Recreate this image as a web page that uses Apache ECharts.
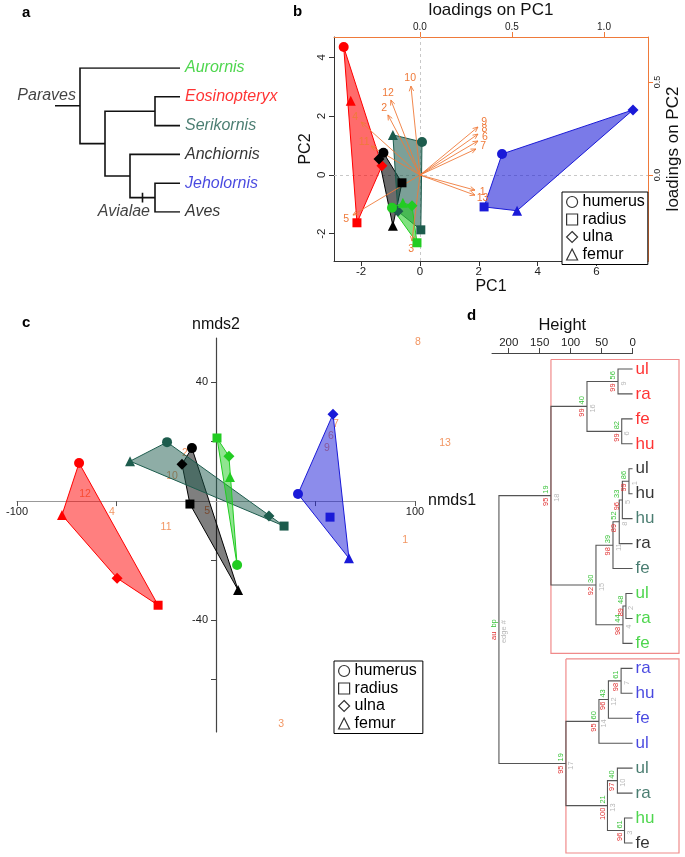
<!DOCTYPE html>
<html>
<head>
<meta charset="utf-8">
<script src="https://cdn.jsdelivr.net/npm/echarts@6.0.0/dist/echarts.min.js"></script>
<style>html,body{margin:0;padding:0;background:#fff;}#chart{width:685px;height:857px;}</style>
</head>
<body>
<div id="chart"></div>
<script>
// ================= DATA =================
// (a) cladogram
const treeTaxa = ['Aurornis','Eosinopteryx','Serikornis','Anchiornis','Jeholornis','Aves'];
const treeMerge = [[-2,-3],[-5,-6],[-4,2],[1,3],[-1,4]];   // R-style merge matrix
const treeNodeRank = [3,3,2,1,0];
const treeLeafRank = 4;
const treeCladeNames = ['Paraves','Avialae'];

// (b) PCA: bone order humerus, radius, ulna, femur ; [PC1, PC2]
const taxa = ['Eosinopteryx','Anchiornis','Serikornis','Aurornis','Jeholornis'];
const bones = ['humerus','radius','ulna','femur'];
const pcaEosinopteryx = [[-2.59,4.35],[-2.14,-1.63],[-1.29,0.31],[-2.35,2.52]];
const pcaAnchiornis   = [[-1.24,0.75],[-0.61,-0.27],[-1.39,0.54],[-0.92,-1.73]];
const pcaSerikornis   = [[0.07,1.12],[0.03,-1.87],[-0.75,-1.24],[-0.92,1.36]];
const pcaAurornis     = [[-0.95,-1.12],[-0.10,-2.31],[-0.27,-1.05],[-0.58,-0.95]];
const pcaJeholornis   = [[2.79,0.71],[2.18,-1.09],[7.24,2.21],[3.30,-1.22]];
const loadingVars = ['1','2','3','4','5','6','7','8','9','10','11','12','13'];
const loadingPC1 = [0.299,-0.174,-0.043,-0.320,-0.364,0.315,0.304,0.315,0.315,-0.049,-0.266,-0.158,0.299];
const loadingPC2 = [-0.081,0.323,-0.355,0.285,-0.215,0.183,0.140,0.220,0.258,0.478,0.156,0.403,-0.108];
const pc1Ticks = [-2,0,2,4,6];
const pc2Ticks = [-2,0,2,4];
const load1Ticks = [0,0.5,1.0];
const load2Ticks = [0,0.5];

// (c) NMDS
const nmdsEosinopteryx = [[-68.8,12.8],[-29.1,-35.0],[-49.7,-25.9],[-77.4,-4.7]];
const nmdsAnchiornis   = [[-12.1,17.8],[-13.1,-1.0],[-17.1,12.4],[11.1,-29.9]];
const nmdsSerikornis   = [[-24.6,19.8],[34.2,-8.4],[26.6,-5.0],[-43.2,13.4]];
const nmdsAurornis     = [[10.6,-21.5],[0.5,21.2],[6.5,15.1],[7.0,8.1]];
const nmdsJeholornis   = [[41.2,2.4],[57.3,-5.4],[58.8,29.2],[66.8,-19.2]];
const nmdsVars = ['1','2','3','4','5','6','7','8','9','10','11','12','13'];
const nmdsVar1 = [95.0,-15.6,32.7,-52.3,-4.5,57.8,60.3,101.5,55.8,-22.1,-25.1,-65.8,115.1];
const nmdsVar2 = [-13.1,16.1,-75.0,-3.7,-3.4,21.8,25.9,53.4,17.8,8.4,-8.7,2.4,19.5];
const nmds1Range = [-100,100];
const nmds2Range = [-77.6,54.8];
const nmds1Ticks = [-100,-50,50,100];
const nmds1Labels = [-100,100];
const nmds2Ticks = [-60,-40,-20,20,40];
const nmds2Labels = [-40,40];

// (d) dendrogram
const dendroLeafBone = ['ul','ra','fe','hu','ul','hu','hu','ra','fe','ul','ra','fe','ra','hu','fe','ul','ul','ra','hu','fe'];
const dendroLeafTaxon = ['Eosinopteryx','Eosinopteryx','Eosinopteryx','Eosinopteryx','Anchiornis','Anchiornis','Serikornis','Anchiornis','Serikornis','Aurornis','Aurornis','Aurornis','Jeholornis','Jeholornis','Jeholornis','Jeholornis','Serikornis','Serikornis','Aurornis','Anchiornis'];
const dendroMerge = [[-1,-2],[-3,-4],[1,2],[-5,-6],[4,-7],[5,-8],[6,-9],[-10,-11],[8,-12],[7,9],[3,10],[-13,-14],[12,-15],[13,-16],[-17,-18],[-19,-20],[15,16],[14,17],[11,18]];
const dendroHeight = [23.5,17.5,73.6,5.8,16.5,21.5,31.6,10.7,15.5,59.1,131.8,18.5,39.0,54.3,24.5,13.0,40.5,107.6,215.8];
const dendroBP   = ['56','82','40','86','33','52','39','48','44','30','19','61','43','60','40','61','21','19','bp'];
const dendroAU   = ['99','99','99','99','96','89','98','89','98','92','95','98','96','95','97','96','100','95','au'];
const dendroEdge = ['9','6','16','1','5','8','11','2','4','15','18','7','12','14','10','3','13','17','edge #'];
const dendroBoxNodes = [11,18];
const heightTicks = [0,50,100,150,200];

// ================= STYLE =================
const FONT = '"Liberation Sans", Arial, Helvetica, sans-serif';
const COL = {Aurornis:'#22cc22', Eosinopteryx:'#ff0000', Serikornis:'#1d5c4d', Anchiornis:'#000000', Jeholornis:'#1a1ad8', Aves:'#000000'};
const ORANGE = '#ef7a3a';
const SYM = {humerus:'circle', radius:'rect', ulna:'diamond', femur:'triangle'};
const SYMSIZE = {humerus:10, radius:9, ulna:11, femur:10};
const pca = {Eosinopteryx:pcaEosinopteryx, Anchiornis:pcaAnchiornis, Serikornis:pcaSerikornis, Aurornis:pcaAurornis, Jeholornis:pcaJeholornis};
const nmds = {Eosinopteryx:nmdsEosinopteryx, Anchiornis:nmdsAnchiornis, Serikornis:nmdsSerikornis, Aurornis:nmdsAurornis, Jeholornis:nmdsJeholornis};

// panel c plot box (pixels)
const GC = {left:17, top:338, width:398, height:394};
const cX0 = GC.left + (0-nmds1Range[0])/(nmds1Range[1]-nmds1Range[0])*GC.width;
const cY0 = GC.top + (nmds2Range[1]-0)/(nmds2Range[1]-nmds2Range[0])*GC.height;

function rgba(hex, a){const n=parseInt(hex.slice(1),16);return `rgba(${(n>>16)&255},${(n>>8)&255},${n&255},${a})`;}
function hull(pts){
  const p=pts.map(q=>q.slice()).sort((a,b)=>a[0]-b[0]||a[1]-b[1]);
  const cr=(o,a,b)=>(a[0]-o[0])*(b[1]-o[1])-(a[1]-o[1])*(b[0]-o[0]);
  const lo=[];for(const q of p){while(lo.length>=2&&cr(lo[lo.length-2],lo[lo.length-1],q)<=0)lo.pop();lo.push(q);}
  const up=[];for(let i=p.length-1;i>=0;i--){const q=p[i];while(up.length>=2&&cr(up[up.length-2],up[up.length-1],q)<=0)up.pop();up.push(q);}
  lo.pop();up.pop();return lo.concat(up);
}
function polySeries(pts,color,xi,yi,alpha){
  const h=hull(pts);
  return {type:'custom',xAxisIndex:xi,yAxisIndex:yi,z:3,silent:true,data:h,
    renderItem:(params,api)=>{ if(params.dataIndex!==0) return null;
      return {type:'polygon',shape:{points:h.map(p=>api.coord(p))},style:{fill:rgba(color,alpha),stroke:color,lineWidth:1}}; }};
}
function pointSeries(pts,color,xi,yi){
  return {type:'scatter',xAxisIndex:xi,yAxisIndex:yi,z:5,silent:true,clip:false,itemStyle:{color:color,opacity:1},
    data:pts.map((p,j)=>({value:p,symbol:SYM[bones[j]],symbolSize:SYMSIZE[bones[j]]}))};
}

// ---- tree layout (a) ----
const treeSegs=[]; const treeNodes=[];
treeMerge.forEach((m,k)=>{
  const pos=c=>c<0?[treeLeafRank,-c-1]:treeNodes[c-1];
  const a=pos(m[0]), b=pos(m[1]); const r=treeNodeRank[k];
  treeNodes.push([r,(a[1]+b[1])/2]);
  treeSegs.push({coords:[[a[0],a[1]],[r,a[1]],[r,b[1]],[b[0],b[1]]]});
});
const treeRoot=treeNodes[treeNodes.length-1];
treeSegs.push({coords:[[treeRoot[0]-1,treeRoot[1]],[treeRoot[0],treeRoot[1]]]});
const avNode=treeNodes[1];  // Jeholornis+Aves = Avialae
const avParent=treeNodes[2];
const avMid=(avNode[0]+avParent[0])/2;
treeSegs.push({coords:[[avMid,avNode[1]-0.17],[avMid,avNode[1]+0.17]]});

// ---- dendrogram layout (d) ----
const dSegs=[]; const dNodes=[];
dendroMerge.forEach((m,k)=>{
  const pos=c=>c<0?[0,-c]:dNodes[c-1];
  const a=pos(m[0]), b=pos(m[1]); const h=dendroHeight[k];
  dNodes.push([h,(a[1]+b[1])/2]);
  dSegs.push({coords:[[a[0],a[1]],[h,a[1]],[h,b[1]],[b[0],b[1]]]});
});
function leavesOf(c){ if(c<0) return [-c]; const m=dendroMerge[c-1]; return leavesOf(m[0]).concat(leavesOf(m[1])); }
const BOX_RIGHT=-75;
const boxSegs=dendroBoxNodes.map(n=>{ const L=leavesOf(n); const lo=Math.min(...L)-0.38, hi=Math.max(...L)+0.4, h=dendroHeight[n-1];
  return {coords:[[h,lo],[BOX_RIGHT,lo],[BOX_RIGHT,hi],[h,hi],[h,lo]]}; });

// ================= OPTION =================
const noSplit = {show:false};
const option = {
  animation:false,
  backgroundColor:'#fff',
  textStyle:{fontFamily:FONT},
  graphic:[
    {type:'text',left:22,top:5,style:{text:'a',font:'bold 15px '+FONT,fill:'#000'}},
    {type:'text',left:293,top:4,style:{text:'b',font:'bold 15px '+FONT,fill:'#000'}},
    {type:'text',left:22,top:315,style:{text:'c',font:'bold 15px '+FONT,fill:'#000'}},
    {type:'text',left:467,top:308,style:{text:'d',font:'bold 15px '+FONT,fill:'#000'}}
  ],
  grid:[
    {left:55,top:68,width:125,height:144},
    {left:334,top:37,width:314,height:224},
    {left:GC.left,top:GC.top,width:GC.width,height:GC.height},
    {left:492,top:353,width:187,height:502.5},
    {left:492,top:353,width:140.6,height:1},
    {left:GC.left,top:cY0-1,width:GC.width,height:1},
    {left:cX0,top:GC.top,width:1,height:GC.height}
  ],
  xAxis:[
    {gridIndex:0,type:'value',min:-1,max:4,show:false},
    {gridIndex:1,type:'value',min:-2.92,max:7.75,position:'bottom',
      axisLine:{onZero:false,lineStyle:{color:'#333',width:1}},
      axisTick:{customValues:pc1Ticks,length:5,lineStyle:{color:'#333'}},
      axisLabel:{customValues:pc1Ticks,fontSize:11.5,color:'#222',margin:5,fontFamily:FONT},
      splitLine:noSplit,name:'PC1',nameLocation:'middle',nameGap:16,nameTextStyle:{fontSize:16,color:'#111',fontFamily:FONT}},
    {gridIndex:1,type:'value',min:-0.467,max:1.239,position:'top',
      axisLine:{onZero:false,lineStyle:{color:ORANGE,width:1}},
      axisTick:{customValues:load1Ticks,length:5,lineStyle:{color:ORANGE}},
      axisLabel:{customValues:load1Ticks,fontSize:10,color:'#222',margin:5,fontFamily:FONT,formatter:v=>v.toFixed(1)},
      splitLine:noSplit,name:'loadings on PC1',nameLocation:'middle',nameGap:18,nameTextStyle:{fontSize:17,color:'#111',fontFamily:FONT}},
    {gridIndex:2,type:'value',min:nmds1Range[0],max:nmds1Range[1],show:false},
    {gridIndex:3,type:'value',min:-75,max:227,inverse:true,show:false},
    {gridIndex:4,type:'value',min:0,max:227,inverse:true,position:'top',
      axisLine:{onZero:false,lineStyle:{color:'#444',width:1}},
      axisTick:{customValues:heightTicks,length:5,lineStyle:{color:'#444'}},
      axisLabel:{customValues:heightTicks,fontSize:11.5,color:'#222',margin:4,fontFamily:FONT},
      splitLine:noSplit,name:'Height',nameLocation:'middle',nameGap:19,nameTextStyle:{fontSize:16.5,color:'#111',fontFamily:FONT}},
    {gridIndex:5,type:'value',min:nmds1Range[0],max:nmds1Range[1],position:'bottom',
      axisLine:{onZero:false,lineStyle:{color:'#999',width:1.2}},
      axisTick:{customValues:nmds1Ticks,length:5,lineStyle:{color:'#555'}},
      axisLabel:{customValues:nmds1Labels,fontSize:11,color:'#222',margin:5,fontFamily:FONT},
      splitLine:noSplit,name:'nmds1',nameLocation:'end',nameGap:10,nameTextStyle:{fontSize:16,color:'#111',fontFamily:FONT}},
    {gridIndex:6,type:'value',min:0,max:1,show:false}
  ],
  yAxis:[
    {gridIndex:0,type:'value',min:0,max:5,inverse:true,show:false},
    {gridIndex:1,type:'value',min:-2.93,max:4.69,position:'left',
      axisLine:{onZero:false,lineStyle:{color:'#333',width:1}},
      axisTick:{customValues:pc2Ticks,length:5,lineStyle:{color:'#333'}},
      axisLabel:{customValues:pc2Ticks,rotate:90,fontSize:11.5,color:'#222',margin:6,fontFamily:FONT},
      splitLine:noSplit,name:'PC2',nameLocation:'middle',nameGap:20,nameRotate:90,nameTextStyle:{fontSize:16,color:'#111',fontFamily:FONT}},
    {gridIndex:1,type:'value',min:-0.462,max:0.742,position:'right',
      axisLine:{onZero:false,lineStyle:{color:ORANGE,width:1}},
      axisTick:{customValues:load2Ticks,length:5,lineStyle:{color:ORANGE}},
      axisLabel:{customValues:load2Ticks,rotate:90,fontSize:9,color:'#222',margin:5,fontFamily:FONT,formatter:v=>v.toFixed(1)},
      splitLine:noSplit,name:'loadings on PC2',nameLocation:'middle',nameGap:17,nameRotate:90,nameTextStyle:{fontSize:17,color:'#111',fontFamily:FONT}},
    {gridIndex:2,type:'value',min:nmds2Range[0],max:nmds2Range[1],show:false},
    {gridIndex:3,type:'value',min:0.36,max:20.5,inverse:true,show:false},
    {gridIndex:4,type:'value',min:0,max:1,show:false},
    {gridIndex:5,type:'value',min:0,max:1,show:false},
    {gridIndex:6,type:'value',min:nmds2Range[0],max:nmds2Range[1],position:'left',
      axisLine:{onZero:false,lineStyle:{color:'#444',width:1.2}},
      axisTick:{customValues:nmds2Ticks,length:5,lineStyle:{color:'#444'}},
      axisLabel:{customValues:nmds2Labels,fontSize:11,color:'#222',margin:8,fontFamily:FONT},
      splitLine:noSplit,name:'nmds2',nameLocation:'end',nameGap:5,nameTextStyle:{fontSize:16,color:'#111',fontFamily:FONT,align:'center'}}
  ],
  legend:[
    {orient:'vertical',left:562,top:192,itemWidth:11,itemHeight:11,itemGap:1.5,padding:[2,3,2,4],
      borderColor:'#000',borderWidth:1,backgroundColor:'#fff',selectedMode:false,
      textStyle:{fontSize:16,color:'#000',fontFamily:FONT},
      data:bones.map(b=>({name:b,icon:SYM[b],itemStyle:{color:'#fff',borderColor:'#000',borderWidth:1.2}}))},
    {orient:'vertical',left:334,top:661,itemWidth:11,itemHeight:11,itemGap:1.5,padding:[2,6,2,4],
      borderColor:'#000',borderWidth:1,backgroundColor:'#fff',selectedMode:false,
      textStyle:{fontSize:16,color:'#000',fontFamily:FONT},
      data:bones.map(b=>({name:b,icon:SYM[b],itemStyle:{color:'#fff',borderColor:'#000',borderWidth:1.2}}))}
  ],
  series:[]
};

const S = option.series;
// ---- (a) tree ----
S.push({type:'lines',coordinateSystem:'cartesian2d',xAxisIndex:0,yAxisIndex:0,polyline:true,silent:true,
  lineStyle:{color:'#111',width:1.6,opacity:1},data:treeSegs});
S.push({type:'scatter',xAxisIndex:0,yAxisIndex:0,symbolSize:0,silent:true,clip:false,
  data:treeTaxa.map((t,i)=>({value:[treeLeafRank,i],label:{show:true,position:'right',distance:5,formatter:t,
    fontSize:16,fontStyle:'italic',color:COL[t],fontFamily:FONT}}))});
S.push({type:'scatter',xAxisIndex:0,yAxisIndex:0,symbolSize:0,silent:true,clip:false,
  data:[
    {value:[treeRoot[0],treeRoot[1]],label:{show:true,position:[-4,-2],align:'right',verticalAlign:'bottom',formatter:treeCladeNames[0],fontSize:16,fontStyle:'italic',color:'#111',fontFamily:FONT}},
    {value:[avNode[0],avNode[1]+0.5],label:{show:true,position:[-5,0],align:'right',verticalAlign:'middle',formatter:treeCladeNames[1],fontSize:16,fontStyle:'italic',color:'#111',fontFamily:FONT}}
  ]});

// ---- (b) PCA ----
taxa.forEach(t=>S.push(polySeries(pca[t],COL[t],1,1,0.58)));
S.push({type:'lines',coordinateSystem:'cartesian2d',xAxisIndex:2,yAxisIndex:2,silent:true,z:2,
  lineStyle:{color:'#c8c8c8',width:1,type:[3,3],opacity:1},
  data:[{coords:[[0,-0.462],[0,0.742]]},{coords:[[-0.467,0],[1.239,0]]}]});
S.push({type:'custom',xAxisIndex:2,yAxisIndex:2,z:4,silent:true,
  data:loadingPC1.map((x,i)=>[x,loadingPC2[i],i]),
  renderItem:(params,api)=>{
    const o=api.coord([0,0]); const t=api.coord([api.value(0),api.value(1)]);
    const dx=t[0]-o[0], dy=t[1]-o[1]; const L=Math.hypot(dx,dy)||1; const ux=dx/L, uy=dy/L;
    const hl=5.5, ang=0.42; const vx=-ux, vy=-uy;
    const h1=[t[0]+hl*(vx*Math.cos(ang)-vy*Math.sin(ang)), t[1]+hl*(vx*Math.sin(ang)+vy*Math.cos(ang))];
    const h2=[t[0]+hl*(vx*Math.cos(-ang)-vy*Math.sin(-ang)), t[1]+hl*(vx*Math.sin(-ang)+vy*Math.cos(-ang))];
    return {type:'group',children:[
      {type:'line',shape:{x1:o[0],y1:o[1],x2:t[0],y2:t[1]},style:{stroke:ORANGE,lineWidth:0.9}},
      {type:'polyline',shape:{points:[h1,t,h2]},style:{stroke:ORANGE,fill:null,lineWidth:0.9}},
      {type:'text',x:t[0]+ux*8,y:t[1]+uy*8,style:{text:loadingVars[api.value(2)],fill:ORANGE,font:'10.5px '+FONT,align:'center',verticalAlign:'middle'}}
    ]};
  }});
taxa.forEach(t=>S.push(pointSeries(pca[t],COL[t],1,1)));
bones.forEach(b=>S.push({type:'scatter',name:b,xAxisIndex:1,yAxisIndex:1,data:[],symbol:SYM[b]}));

// ---- (c) NMDS ----
S.push({type:'scatter',xAxisIndex:3,yAxisIndex:3,symbolSize:0,silent:true,clip:false,z:1,
  data:nmdsVar1.map((x,i)=>({value:[x,nmdsVar2[i]],label:{show:true,position:'inside',formatter:nmdsVars[i],fontSize:10.5,color:ORANGE,fontFamily:FONT}}))});
taxa.forEach(t=>S.push(polySeries(nmds[t],COL[t],3,3,0.5)));
taxa.forEach(t=>S.push(pointSeries(nmds[t],COL[t],3,3)));
S.push({type:'scatter',xAxisIndex:6,yAxisIndex:6,data:[],silent:true});
S.push({type:'scatter',xAxisIndex:7,yAxisIndex:7,data:[],silent:true});

// ---- (d) dendrogram ----
S.push({type:'lines',coordinateSystem:'cartesian2d',xAxisIndex:4,yAxisIndex:4,polyline:true,silent:true,
  lineStyle:{color:'#f08a8a',width:1.2,opacity:1},data:boxSegs});
S.push({type:'lines',coordinateSystem:'cartesian2d',xAxisIndex:4,yAxisIndex:4,polyline:true,silent:true,z:3,
  lineStyle:{color:'#555',width:1.1,opacity:1},data:dSegs});
S.push({type:'custom',xAxisIndex:4,yAxisIndex:4,z:4,silent:true,
  data:dNodes.map((p,k)=>[p[0],p[1],k]),
  renderItem:(params,api)=>{
    const p=api.coord([api.value(0),api.value(1)]); const k=api.value(2);
    const f='7.5px '+FONT;
    return {type:'group',children:[
      {type:'text',x:p[0]-1,y:p[1]-2,rotation:Math.PI/2,style:{text:dendroBP[k],fill:'#3cc33c',font:f,align:'left',verticalAlign:'bottom'}},
      {type:'text',x:p[0]-1,y:p[1]+2,rotation:Math.PI/2,style:{text:dendroAU[k],fill:'#e03030',font:f,align:'right',verticalAlign:'bottom'}},
      {type:'text',x:p[0]+1.5,y:p[1]+2,rotation:Math.PI/2,style:{text:dendroEdge[k],fill:'#b8b8b8',font:f,align:'center',verticalAlign:'top'}}
    ]};
  }});
S.push({type:'scatter',xAxisIndex:4,yAxisIndex:4,symbolSize:0,silent:true,clip:false,
  data:dendroLeafBone.map((b,i)=>({value:[0,i+1],label:{show:true,position:'right',distance:3,formatter:b,fontSize:17,color:COL[dendroLeafTaxon[i]],fontFamily:FONT}}))});
S.push({type:'scatter',xAxisIndex:5,yAxisIndex:5,data:[],silent:true});

const chart = echarts.init(document.getElementById('chart'),null,{renderer:'canvas'});
chart.setOption(option);
</script>
</body>
</html>
